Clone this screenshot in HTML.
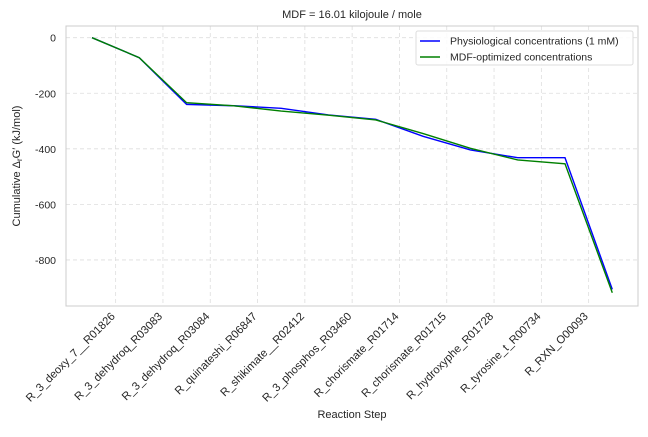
<!DOCTYPE html>
<html><head><meta charset="utf-8"><style>
body{margin:0;background:#fff;font-family:"Liberation Sans",sans-serif}
svg text{font-family:"Liberation Sans",sans-serif;fill:#262626}
</style></head><body>
<svg id="c" width="648" height="432" xmlns="http://www.w3.org/2000/svg"></svg>
<script>
const categories=["R_3_deoxy_7__R01826","R_3_dehydroq_R03083","R_3_dehydroq_R03084","R_quinateshi_R06847","R_shikimate__R02412","R_3_phosphos_R03460","R_chorismate_R01714","R_chorismate_R01715","R_hydroxyphe_R01728","R_tyrosine_t_R00734","R_RXN_O00093"];
const physio=[0,-72,-240,-245,-254,-278,-294,-355,-404,-432,-432,-906];
const mdf=[0,-72,-234,-245,-264,-279,-296,-345,-398,-440,-454,-918];
const yTicks=[0,-200,-400,-600,-800];
const L=66,R=638,T=26,B=306;
const x=i=>92+47.3*i;
const y=v=>37.7-v*0.2778;
const NS="http://www.w3.org/2000/svg";
const svg=document.getElementById('c');
function mk(t,a){const e=document.createElementNS(NS,t);for(const k in a)e.setAttribute(k,a[k]);svg.appendChild(e);return e;}
yTicks.forEach(v=>{
 const g=mk('line',{x1:L,x2:R,y1:y(v),y2:y(v),stroke:'#ddd','stroke-dasharray':'4,3','stroke-width':0.8});
 
 
 const t=mk('text',{x:56,y:y(v)+4,'text-anchor':'end','font-size':10.5});
 t.textContent=v;
 
 
});
categories.forEach((c,k)=>{
 const px=x(k+0.5);
 const g=mk('line',{x1:px,x2:px,y1:T,y2:B,stroke:'#ddd','stroke-dasharray':'4,3','stroke-width':0.8});
 
 
 const t=mk('text',{x:px,y:B+11,'text-anchor':'end','font-size':11.2,transform:`rotate(-45 ${px} ${B+11})`});
 t.textContent=c;
 
 
});
const fr=mk('rect',{x:L,y:T,width:R-L,height:B-T,fill:'none',stroke:'#ccc','stroke-width':1});


function line(d,col,name){
 const p=mk('polyline',{points:d.map((v,i)=>x(i)+','+y(v)).join(' '),fill:'none',stroke:col,'stroke-width':1.4});
 
 
}
line(physio,'#0000ff','physio-line');
line(mdf,'#008000','mdf-line');
</script>
<svg width="648" height="432" style="position:absolute;left:0;top:0" xmlns="http://www.w3.org/2000/svg">
<text x="352" y="18" text-anchor="middle" font-size="11">MDF = 16.01 kilojoule / mole</text>
<text x="352" y="418" text-anchor="middle" font-size="11">Reaction Step</text>
<text x="20" y="166" text-anchor="middle" font-size="11" transform="rotate(-90 20 166)">Cumulative Δ<tspan font-size="8" dy="2">r</tspan><tspan dy="-2">G′ (kJ/mol)</tspan></text>
<g>
<rect x="416" y="31" width="217" height="34" rx="2" fill="#fff" fill-opacity="0.85" stroke="#ddd"/>
<line x1="420" x2="440" y1="41" y2="41" stroke="#0000ff" stroke-width="1.4"/>
<text x="450" y="44.5" font-size="10.5">Physiological concentrations (1 mM)</text>
<line x1="420" x2="440" y1="57" y2="57" stroke="#008000" stroke-width="1.4"/>
<text x="450" y="60.5" font-size="10.5">MDF-optimized concentrations</text>
</g>
</svg>
</body></html>
